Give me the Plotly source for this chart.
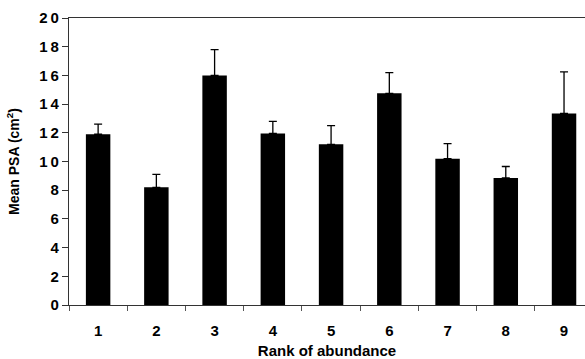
import plotly.graph_objects as go

ranks = [1, 2, 3, 4, 5, 6, 7, 8, 9]
mean_psa = [11.9, 8.2, 16.0, 11.95, 11.2, 14.75, 10.2, 8.85, 13.35]
err_plus = [0.7, 0.9, 1.8, 0.85, 1.3, 1.45, 1.05, 0.8, 2.9]
y_ticks = [0, 2, 4, 6, 8, 10, 12, 14, 16, 18, 20]
y_tick_text = ["0", "2", "4", "6", "8", "1\u20090", "1\u20092", "1\u20094", "1\u20096", "1\u20098", "2\u20090"]
boundaries = [0.5 + i for i in range(10)]

FAM = "Liberation Sans, Arial, sans-serif"

fig = go.Figure()
fig.add_trace(go.Bar(
    x=ranks, y=mean_psa, width=0.42,
    marker=dict(color="black", line=dict(width=0)),
    error_y=dict(type="data", array=err_plus, symmetric=False,
                 arrayminus=[0]*len(ranks), color="black", thickness=1.3, width=4),
))

fig.update_layout(
    width=585, height=359,
    margin=dict(l=69, r=0, t=18, b=54),
    paper_bgcolor="white", plot_bgcolor="white",
    showlegend=False,
    font=dict(family=FAM, size=14, color="black"),
    xaxis=dict(
        range=[0.5, 9.36], tickmode="array", tickvals=ranks,
        ticks="", showgrid=False, zeroline=False,
        showline=True, linecolor="#333", linewidth=1.2, mirror=True,
        minor=dict(tickmode="array", tickvals=boundaries, ticks="outside",
                   ticklen=5, tickcolor="#555", showgrid=False),
        tickfont=dict(family=FAM, size=15, color="black", weight="bold"),
        title=dict(text="<b>Rank of abundance</b>", standoff=8,
                   font=dict(family=FAM, size=15)),
        ticklabelstandoff=12,
    ),
    yaxis=dict(
        range=[0, 20], tickmode="array", tickvals=y_ticks, ticktext=y_tick_text,
        ticks="outside", ticklen=6, tickcolor="#333", tickwidth=1,
        showgrid=False, zeroline=False,
        showline=True, linecolor="#333", linewidth=1.2,
        tickfont=dict(family=FAM, size=15, color="black", weight="bold"),
        title=dict(text="<b>Mean PSA (cm<sup>2</sup>)</b>", standoff=16,
                   font=dict(family=FAM, size=14)),
    ),
)

fig.write_html("out.html")
